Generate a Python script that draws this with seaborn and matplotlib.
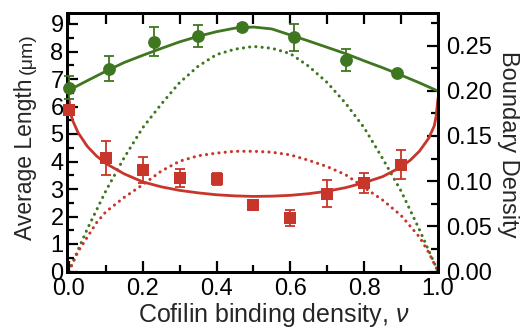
import matplotlib
matplotlib.use("Agg")
import matplotlib.pyplot as plt
from matplotlib.ticker import MultipleLocator, FormatStrFormatter, NullFormatter, FixedLocator
import seaborn as sns

# ---------------- data ----------------
# measured points (left axis, average length in um)
green_x = [0.0, 0.11, 0.23, 0.35, 0.47, 0.61, 0.75, 0.89]
green_y = [6.69, 7.38, 8.36, 8.57, 8.88, 8.51, 7.69, 7.21]
green_err = [0.42, 0.47, 0.52, 0.41, 0.12, 0.49, 0.41, 0.08]

red_x = [0.0, 0.1, 0.2, 0.3, 0.4, 0.5, 0.6, 0.7, 0.8, 0.9]
red_y = [5.87, 4.13, 3.70, 3.40, 3.38, 2.43, 1.94, 2.83, 3.22, 3.89]
red_err = [0.12, 0.63, 0.48, 0.32, 0.22, 0.18, 0.28, 0.49, 0.35, 0.53]

# fitted curves (left axis)
green_fit_nu = [0.0, 0.05, 0.1, 0.15, 0.2, 0.25, 0.3, 0.35, 0.4, 0.45, 0.5,
                0.55, 0.6, 0.65, 0.7, 0.75, 0.8, 0.85, 0.9, 0.95, 1.0]
green_fit = [6.59, 6.94, 7.28, 7.60, 7.86, 8.11, 8.35, 8.55, 8.72, 8.85, 8.89,
             8.82, 8.60, 8.38, 8.15, 7.92, 7.66, 7.41, 7.14, 6.86, 6.56]

red_fit_nu = [0.0, 0.005, 0.01, 0.025, 0.05, 0.075, 0.1,
              0.15, 0.2, 0.25, 0.3, 0.35, 0.4, 0.45, 0.5, 0.55, 0.6, 0.65,
              0.7, 0.75, 0.8, 0.85, 0.9,
              0.925, 0.95, 0.975, 0.99, 0.995, 1.0]
red_fit = [6.30, 5.75, 5.50, 5.05, 4.55, 4.20, 3.93,
           3.55, 3.26, 3.08, 2.95, 2.86, 2.79, 2.75, 2.73, 2.74, 2.77, 2.83,
           2.92, 3.05, 3.23, 3.45, 3.80,
           4.05, 4.38, 4.85, 5.30, 5.65, 6.30]

# boundary density curves (right axis)
dens_nu = [0.0, 0.025, 0.05, 0.075, 0.1, 0.15, 0.2, 0.25, 0.3, 0.35, 0.4, 0.45,
           0.5, 0.55, 0.6, 0.65, 0.7, 0.75, 0.8, 0.85, 0.9, 0.95, 0.975, 1.0]
green_dens = [0.0, 0.024, 0.047, 0.068, 0.089, 0.126, 0.159, 0.185, 0.209, 0.227,
              0.240, 0.246, 0.249, 0.247, 0.241, 0.227, 0.209, 0.186, 0.159,
              0.125, 0.089, 0.046, 0.023, 0.0]
red_dens = [0.0, 0.022, 0.038, 0.054, 0.066, 0.082, 0.096, 0.111, 0.122, 0.128,
            0.131, 0.133, 0.133, 0.132, 0.129, 0.123, 0.116, 0.107, 0.093,
            0.079, 0.062, 0.038, 0.021, 0.0]

left_ticks = list(range(0, 10))
right_ticks = [0.0, 0.05, 0.10, 0.15, 0.20, 0.25]
x_ticks = [0.0, 0.2, 0.4, 0.6, 0.8, 1.0]
top_ticks = [0.0, 0.1, 0.2, 0.3, 0.4, 0.5, 0.6, 0.7, 0.8, 0.9, 1.0]

GREEN = "#3f7620"
RED = "#c8352a"

# ---------------- style ----------------
sns.set_style("ticks")
plt.rcParams["font.family"] = ["Liberation Sans", "DejaVu Sans"]
plt.rcParams["mathtext.fontset"] = "custom"
plt.rcParams["mathtext.rm"] = "Liberation Sans"
plt.rcParams["mathtext.it"] = "Liberation Sans:italic"

fig = plt.figure(figsize=(5.28, 3.3), dpi=100)
ax = fig.add_axes([67 / 528, (330 - 271.5) / 330, (438 - 67) / 528, (271.5 - 13) / 330])
ax2 = ax.twinx()
ax.set_zorder(ax2.get_zorder() + 1)
ax.patch.set_visible(False)

dot_style = (0, (0.05, 2.0))
sns.lineplot(x=dens_nu, y=green_dens, ax=ax2, color=GREEN, lw=2.2,
             linestyle=dot_style, dash_capstyle="round", errorbar=None)
sns.lineplot(x=dens_nu, y=red_dens, ax=ax2, color=RED, lw=2.2,
             linestyle=dot_style, dash_capstyle="round", errorbar=None)

sns.lineplot(x=green_fit_nu, y=green_fit, ax=ax, color=GREEN, lw=2.0, errorbar=None)
sns.lineplot(x=red_fit_nu, y=red_fit, ax=ax, color=RED, lw=2.0, errorbar=None)

ax.errorbar(green_x, green_y, yerr=green_err, fmt="none", ecolor=GREEN,
            elinewidth=1.3, capsize=3.6, capthick=1.3, zorder=4, clip_on=False)
ax.errorbar(red_x, red_y, yerr=red_err, fmt="none", ecolor=RED,
            elinewidth=1.3, capsize=3.6, capthick=1.3, zorder=4, clip_on=False)
sns.scatterplot(x=green_x, y=green_y, ax=ax, marker="o", s=85, color=GREEN,
                edgecolor=GREEN, linewidth=0, zorder=5, clip_on=False)
sns.scatterplot(x=red_x, y=red_y, ax=ax, marker="s", s=80, color=RED,
                edgecolor=RED, linewidth=0, zorder=5, clip_on=False)

# ---------------- axes ----------------
ax.set_xlim(-0.005, 1.0)
ax.set_ylim(0, 9.4)
ax2.set_ylim(0, 0.286)

ax.set_xticks(x_ticks)
ax.xaxis.set_minor_locator(MultipleLocator(0.1))
ax.xaxis.set_major_formatter(FormatStrFormatter("%.1f"))
ax.set_yticks(left_ticks)
ax.yaxis.set_minor_locator(MultipleLocator(0.5))
ax2.set_yticks(right_ticks)
ax2.yaxis.set_minor_locator(MultipleLocator(0.025))
ax2.yaxis.set_major_formatter(FormatStrFormatter("%.2f"))

for a in (ax, ax2):
    for s in a.spines.values():
        s.set_linewidth(2.0)
        s.set_color("black")
    a.tick_params(which="both", direction="in", width=1.6, colors="black", labelsize=17)
    a.tick_params(which="major", length=8)
    a.tick_params(which="minor", length=5)

ax.tick_params(axis="x", which="both", top=False, bottom=True, pad=5.0)
ax.tick_params(axis="y", which="both", left=True, right=False, pad=2.5)
ax2.tick_params(axis="y", which="both", right=True, left=False, pad=5.5)

# top ticks: equal length every 0.1, no labels (independent secondary axis)
sec = ax.secondary_xaxis("top")
sec.xaxis.set_major_locator(FixedLocator(top_ticks))
sec.xaxis.set_major_formatter(NullFormatter())
sec.xaxis.set_minor_locator(FixedLocator([]))
sec.tick_params(axis="x", which="major", direction="in", length=8, width=1.6,
                colors="black", labeltop=False)
sec.spines["top"].set_linewidth(2.0)

ax.set_xlabel("")
ax.set_ylabel("")
ax2.set_ylabel("")

# ---------------- labels ----------------
t1 = fig.text(32 / 528, (330 - 240) / 330, "Average Length", rotation=90,
              rotation_mode="anchor", ha="left", va="baseline", fontsize=16.5)
fig.canvas.draw()
bb = t1.get_window_extent()
fig.text(32 / 528, (bb.y1 + 5) / 330, "(μm)", rotation=90,
         rotation_mode="anchor", ha="left", va="baseline", fontsize=14)
fig.text(274 / 528, (330 - 322) / 330, r"Cofilin binding density, $\nu$",
         ha="center", va="baseline", fontsize=18)
fig.text(508 / 528, (330 - 144) / 330, "Boundary Density", rotation=270,
         ha="center", va="center", fontsize=17)

fig.savefig("out.png", dpi=100)
